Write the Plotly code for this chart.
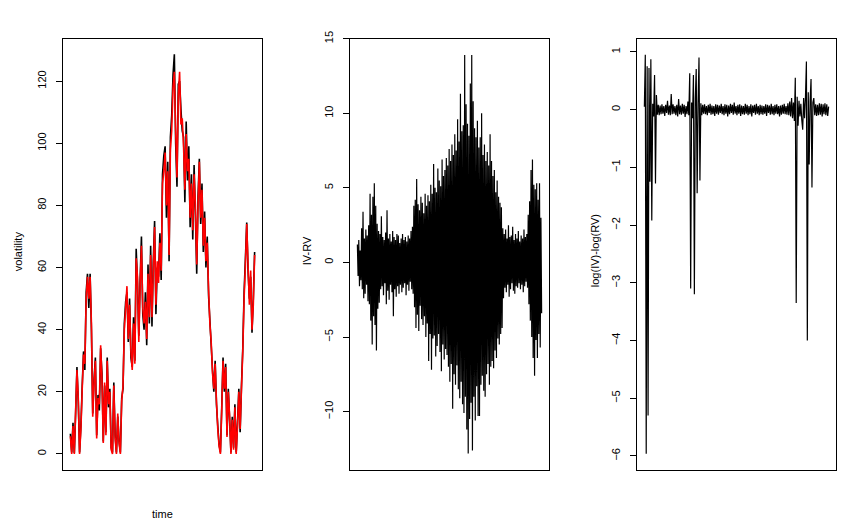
import plotly.graph_objects as go
from plotly.subplots import make_subplots

# panel 1: implied (black) and realised (red) volatility
rv = [5.7, 0, 9, 0, 14, 27, 18, 0, 8, 21,
      32, 29, 50, 57, 50, 57, 42, 12, 23, 30,
      5, 18, 16, 35, 24, 3.5, 23, 6, 30, 16,
      20, 1.4, 0, 22, 5, 0, 13, 3.5, 0, 17,
      22, 40, 47, 54, 37, 48, 33, 27, 42, 29,
      63, 57, 36, 54, 67, 47, 42, 49, 37, 58,
      44, 64, 44, 59, 73, 48, 62, 55, 68, 59, 87, 91,
      97, 80, 91, 64, 98, 104, 118, 123, 104, 89,
      115, 123, 106, 108, 99, 85, 103, 91, 95, 76,
      87, 72, 90, 80, 61, 80, 94, 76,
      85, 67, 76, 62, 68, 53, 42, 36, 26, 21,
      29, 17, 8, 2.5, 0, 14, 30, 21, 28, 5.5,
      20, 12, 0, 11, 1.4, 15, 0, 9, 20, 8,
      21, 33, 50, 61, 74, 61, 48, 59, 40, 48, 64]
iv = [6.5, 0.5, 10, 0.3, 13, 28, 17, 0.5, 9, 22,
      33, 27, 52, 58, 47, 58, 40, 13, 24, 31,
      6, 19, 14, 34, 26, 4, 22, 7, 31, 15,
      21, 2, 0.5, 23, 6, 0.5, 12, 4, 0.5, 18,
      21, 42, 49, 52, 36, 50, 31, 28, 44, 30,
      66, 55, 38, 56, 70, 45, 40, 52, 35, 61,
      42, 67, 41, 62, 75, 45, 60, 57, 71, 56, 90, 96,
      99, 76, 94, 62, 102, 109, 122, 128.6, 100, 86,
      119, 120, 111, 104, 102, 81, 107, 88, 99, 73,
      90, 69, 93, 77, 58, 83, 95, 74,
      87, 65, 78, 60, 70, 51, 43, 35, 27, 20,
      30, 16, 9, 3, 0.5, 15, 31, 20, 29, 6,
      21, 11, 0.5, 12, 2, 16, 0.5, 10, 21, 7,
      22, 34, 52, 63, 74.5, 59, 50, 57, 39, 50, 65]

# panel 2: IV-RV
iv_rv = [1.2, -0.9, 1.5, -1.6, 0.8, -1.2, 2.3, -1.8, 3.4, -2.4, 1.6, -2.1, 2.2, -1.5, 1.8, -2.6,
         2.5, -2.8, 4.6, -3.9, 3.2, -5.5, 4.4, -3.6, 5.3, -4.2, 3.8, -5.9, 2.6, -3.1, 2.1, -2.7, 1.9, -1.8,
         3.1, -1.6, 1.7, -2.2, 1.5, -1.4, 2.0, -2.8, 3.5, -1.9, 1.6, -2.5, 1.9, -1.5, 1.4, -2.0,
         2.1, -3.6, 1.7, -1.8, 1.5, -2.3, 1.9, -1.6, 1.8, -2.1, 1.3, -1.5, 1.6, -2.0, 1.9, -1.7,
         1.5, -1.4, 1.7, -2.2, 1.4, -1.5, 1.8, -1.9, 1.6, -1.3, 2.1, -1.8, 2.4, -2.1,
         3.8, -3.0, 4.2, -4.4, 5.6, -3.5, 3.9, -4.6, 3.5, -2.9, 4.4, -3.8, 4.0, -4.2, 3.3, -3.6,
         4.6, -5.0, 3.8, -4.1, 4.5, -6.6, 4.1, -4.8,
         5.2, -7.2, 4.6, -5.1, 6.6, -4.9, 5.0, -6.3, 4.7, -5.6, 6.3, -4.8, 5.5, -6.0, 5.1, -7.3,
         6.9, -5.5, 5.8, -6.5, 6.2, -5.8, 7.0, -6.2,
         6.5, -7.0, 7.6, -8.0, 6.8, -6.8, 7.9, -9.8, 7.2, -7.5, 8.6, -8.2, 7.5, -6.9, 9.6, -8.5,
         8.1, -9.1, 11.3, -8.0, 8.8, -9.5, 9.2, -10.1,
         13.9, -9.0, 10.6, -11.2, 9.3, -12.8, 8.5, -10.5, 12.0, -9.4, 13.9, -12.6, 10.8, -9.0,
         9.0, -10.6, 8.4, -8.3, 9.5, -10.3,
         7.7, -10.3, 8.4, -8.2, 10.0, -7.6, 7.2, -8.6, 7.9, -9.0, 6.8, -7.5, 7.4, -6.8, 6.5, -8.2,
         8.6, -7.0,
         6.8, -6.6, 5.8, -7.1, 6.2, -5.9, 4.7, -6.4, 5.5, -5.1, 4.4, -5.5, 4.0, -4.8, 3.7, -4.4,
         2.3, -2.4, 1.9, -1.7, 2.2, -2.0, 1.6, -1.5, 2.5, -2.3, 1.7, -1.8, 1.8, -1.4, 2.4, -1.9,
         1.5, -2.1, 1.9, -1.6, 1.6, -1.7, 2.1, -1.4, 1.4, -1.8, 1.8, -1.5, 1.6, -2.0, 2.2, -1.6,
         1.7, -1.3, 1.9, -1.7,
         3.2, -2.8, 4.1, -3.9, 6.2, -5.0, 6.9, -6.4, 5.2, -7.6, 4.9, -5.2, 5.3, -6.4, 4.2, -4.8,
         5.3, -5.7, 3.0, -3.4]

# panel 3: log(IV)-log(RV)
log_diff = [0.05, 0.95, -5.96, 0.75, -5.3, 0.72, -1.25, 0.87, -1.92, 0.1,
            -0.12, 0.6, -1.28, 0.25, -0.09, 0.08, -0.1, 0.07, -0.08, 0.09,
            -0.07, 0.06, -0.11, 0.08, -0.06, 0.15, -0.09, 0.07, -0.1, 0.27,
            -0.08, 0.09, -0.07, 0.06, -0.1, 0.08, -0.12, 0.18, -0.08, 0.07,
            -0.09, 0.1, -0.07, 0.08, -0.13, 0.06, -0.08, 0.14, -0.1, 0.63,
            -3.1, 0.12, -0.15, 0.6, -3.2, 0.2, 0.7, -1.45, 0.1, 0.9,
            -1.23, 0.11, -0.1, 0.08, -0.07, 0.09, -0.08, 0.06, -0.1, 0.08,
            -0.06, 0.1, -0.09, 0.07, -0.08, 0.06, -0.11, 0.09, -0.07, 0.08,
            -0.09, 0.07, -0.06, 0.1, -0.08, 0.06, -0.1, 0.09, -0.07, 0.08,
            -0.12, 0.07, -0.08, 0.1, -0.06, 0.08, -0.09, 0.12, -0.07, 0.06,
            -0.1, 0.08, -0.07, 0.09, -0.11, 0.07, -0.08, 0.06, -0.09, 0.1,
            -0.07, 0.08, -0.1, 0.06, -0.08, 0.09, -0.12, 0.07, -0.06, 0.08,
            -0.09, 0.1, -0.07, 0.06, -0.1, 0.08, -0.08, 0.07, -0.09, 0.06,
            -0.07, 0.09, -0.11, 0.08, -0.06, 0.07, -0.09, 0.1, -0.08, 0.06,
            -0.1, 0.08, -0.07, 0.09, -0.08, 0.06, -0.12, 0.07, -0.09, 0.08,
            -0.07, 0.1, -0.08, 0.06, -0.09, 0.11, -0.1, 0.14, -0.12, 0.2,
            -0.15, 0.12, -0.2, 0.55, -3.35, 0.22, -0.28, 0.15, -0.12, 0.1,
            -0.18, -0.35, 0.2, -0.15, 0.22, 0.83, -4.0, 0.3, -0.95, 0.15,
            0.53, -1.35, 0.12, 0.2, -0.1, 0.09, -0.11, 0.08, -0.1, 0.11,
            -0.09, 0.1, -0.12, 0.09, -0.08, 0.11, -0.1, 0.09, -0.11, 0.05]

y_titles = ["volatility", "IV-RV", "log(IV)-log(RV)"]
x_title = "time"

W, H = 862, 521
FONT = "Liberation Sans, Arial, sans-serif"


def pad_range(n):
    # R style 4% padding around index axis
    return [-0.04 * (n - 1), 1.04 * (n - 1)]


fig = make_subplots(rows=1, cols=3)

fig.add_trace(go.Scatter(x=list(range(len(iv))), y=iv, mode="lines",
                         line=dict(color="black", width=1.6, simplify=False)), row=1, col=1)
fig.add_trace(go.Scatter(x=list(range(len(rv))), y=rv, mode="lines",
                         line=dict(color="red", width=1.6, simplify=False)), row=1, col=1)
fig.add_trace(go.Scatter(x=list(range(len(iv_rv))), y=iv_rv, mode="lines",
                         line=dict(color="black", width=1.2, simplify=False)), row=1, col=2)
fig.add_trace(go.Scatter(x=list(range(len(log_diff))), y=log_diff, mode="lines",
                         line=dict(color="black", width=1.2, simplify=False)), row=1, col=3)

# box edges in pixels (left, right), shared top/bottom
boxes = [(63, 262), (350, 549), (637, 836)]
top, bottom = 31, 469
y_ranges = [[-5.1, 133.7], [-13.9, 15.01], [-6.24, 1.23]]
y_ticks = [[0, 20, 40, 60, 80, 100, 120], [-10, -5, 0, 5, 10, 15], [-6, -5, -4, -3, -2, -1, 0, 1]]
lengths = [len(rv), len(iv_rv), len(log_diff)]

for i in range(3):
    l, r = boxes[i]
    sfx = "" if i == 0 else str(i + 1)
    fig.layout["xaxis" + sfx].update(
        domain=[l / W, r / W], range=pad_range(lengths[i]),
        showticklabels=False, ticks="", showgrid=False, zeroline=False,
        showline=True, linecolor="black", linewidth=1, mirror=True,
    )
    fig.layout["yaxis" + sfx].update(
        domain=[1 - bottom / H, 1 - top / H], range=y_ranges[i],
        tickmode="array", tickvals=y_ticks[i], ticks="outside", ticklen=6,
        tickcolor="black", tickangle=-90, ticklabelstandoff=6,
        tickfont=dict(family=FONT, size=11, color="black"),
        showgrid=False, zeroline=False,
        showline=True, linecolor="black", linewidth=1, mirror=True,
    )

title_x = [18, 307, 595]
annotations = []
for i in range(3):
    annotations.append(dict(
        text=y_titles[i], x=title_x[i] / W, y=1 - 247 / H,
        xref="paper", yref="paper", showarrow=False, textangle=-90,
        xanchor="center", yanchor="middle",
        font=dict(family=FONT, size=11, color="black"),
    ))
annotations.append(dict(
    text=x_title, x=162 / W, y=1 - 514 / H, xref="paper", yref="paper",
    showarrow=False, xanchor="center", yanchor="middle",
    font=dict(family=FONT, size=11, color="black"),
))

fig.update_layout(
    width=W, height=H,
    margin=dict(l=0, r=0, t=0, b=0),
    plot_bgcolor="white", paper_bgcolor="white",
    showlegend=False,
    annotations=annotations,
)

fig.write_html("out.html", config={"displayModeBar": False},
               post_script="document.body.style.margin='0';document.body.style.overflow='hidden';")
